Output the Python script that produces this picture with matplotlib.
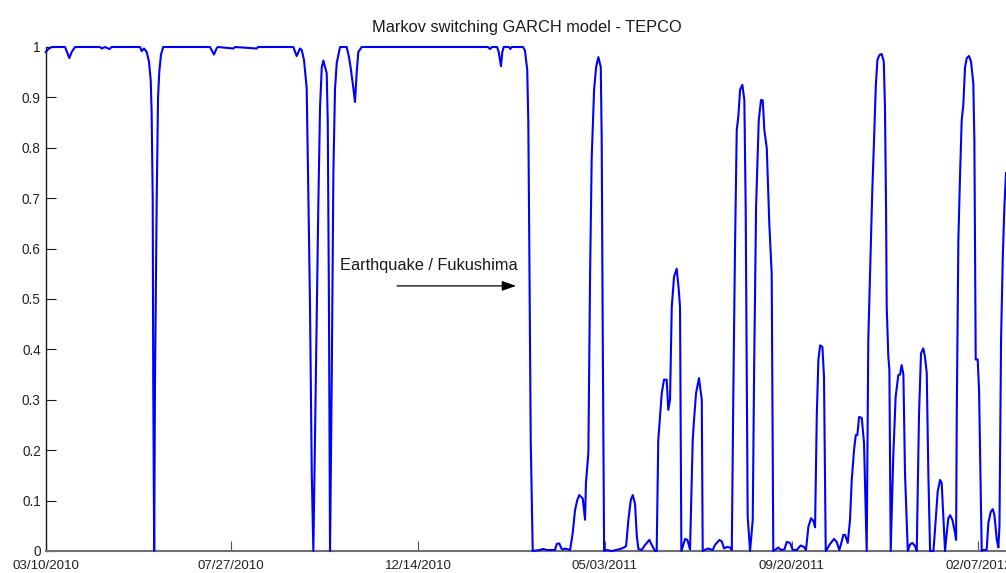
import matplotlib
matplotlib.use("Agg")
import matplotlib.pyplot as plt
import pandas as pd

plt.rcParams['font.family'] = ['Liberation Sans', 'DejaVu Sans']

# ---------------- data ----------------
start_date = "2010-03-10"
# days since start_date
days = [
    0, 2.0, 4.5, 14.5, 17.7, 19.5, 22.0, 40.7, 42.0, 44.4, 47.7, 49.5,
    70.7, 71.9, 73.7, 75.7, 77.4, 78.7, 79.4, 80.2, 80.6, 81.3, 81.9, 83.2,
    84.2, 85.1, 86.4, 88.1, 123.1, 126.1, 128.2, 129.1, 140.6, 141.9, 158.1,
    159.1, 185.6, 188.1, 190.6, 191.9, 193.6, 195.6, 196.6, 198.1, 199.4,
    200.6, 201.8, 204.3, 205.6, 206.9, 208.1, 210.6, 211.4, 212.3, 213.1,
    214.4, 215.6, 216.8, 218.1, 220.6, 225.6, 227.3, 228.6, 230.5, 231.8,
    233.1, 234.3, 236.8, 331.5, 333.0, 334.5, 338.3, 339.5, 341.2, 342.2,
    343.3, 347.2, 348.2, 349.3, 357.7, 359.2, 360.9, 361.7, 362.4, 363.5,
    365.0, 370.5, 372.7, 375.7, 381.7, 383.0, 384.9, 386.7, 387.9, 389.2,
    393.0, 395.0, 396.7, 398.4, 399.9, 402.5, 404.2, 404.9, 406.7, 408.0,
    409.2, 411.0, 412.5, 414.2, 416.0, 416.7, 417.5, 418.5, 420.0, 424.5,
    430.5, 433.5, 435.0, 436.7, 438.5, 440.0, 441.7, 443.0, 444.2, 446.7,
    449.2, 452.4, 454.2, 456.7, 457.9, 459.1, 461.7, 463.4, 465.4, 466.6,
    467.9, 469.2, 470.9, 472.9, 474.4, 475.4, 476.4, 479.2, 480.9, 482.9,
    484.9, 485.9, 487.4, 489.6, 491.7, 492.4, 496.3, 499.9, 501.6, 504.9,
    506.7, 508.4, 510.4, 512.9, 514.2, 515.3, 516.6, 517.9, 519.1, 520.4,
    522.1, 523.6, 524.6, 526.1, 527.9, 529.9, 530.9, 532.4, 534.4, 536.1,
    537.4, 538.6, 540.4, 542.3, 544.1, 545.3, 546.6, 549.1, 550.9, 553.6,
    555.4, 557.9, 559.9, 562.9, 565.8, 568.3, 569.8, 571.6, 573.6, 575.3,
    576.6, 577.9, 579.1, 580.4, 582.1, 583.3, 584.6, 585.3, 587.3, 589.1,
    590.8, 592.8, 594.8, 596.1, 597.8, 599.1, 601.1, 602.8, 604.1, 605.8,
    607.1, 608.3, 609.6, 611.6, 613.3, 615.3, 616.5, 617.8, 619.5, 620.8,
    622.1, 623.3, 624.8, 626.6, 628.1, 629.0, 629.8, 630.3, 631.5, 632.3,
    633.3, 635.2, 637.0, 639.0, 640.3, 641.5, 642.8, 644.0, 646.1, 647.8,
    649.5, 651.5, 652.8, 654.5, 656.0, 657.7, 659.0, 660.3, 661.5, 662.8,
    665.3, 666.5, 668.5, 670.3, 671.5, 672.3, 674.0, 675.3, 676.5, 677.8,
    679.5, 681.5, 682.3, 682.8, 684.0, 685.3, 686.5, 687.7, 689.0, 690.3,
    692.0, 693.5, 695.2, 696.0, 697.0, 698.5, 699.5, 700.5, 701.5, 702.7,
    705.2, 706.5, 708.3, 709.8, 711.0, 712.8, 714.0, 714.8, 716.0, 717.3,
    718.5, 719.7,
]
prob = [
    0.99, 0.996, 1.0, 1.0, 0.978, 0.99, 1.0, 1.0, 0.997, 1.0, 0.996, 1.0,
    1.0, 0.992, 0.997, 0.99, 0.971, 0.934, 0.87, 0.70, 0.33, 0.0, 0.33, 0.70,
    0.90, 0.95, 0.985, 1.0, 1.0, 0.985, 0.998, 1.0, 0.997, 1.0, 0.997,
    1.0, 1.0, 0.982, 0.997, 0.994, 0.974, 0.918, 0.75, 0.484, 0.154,
    0.0, 0.22, 0.683, 0.88, 0.96, 0.973, 0.948, 0.85, 0.48, 0.0,
    0.35, 0.75, 0.915, 0.968, 1.0, 1.0, 0.98, 0.958, 0.92, 0.891,
    0.95, 0.99, 1.0, 1.0, 0.996, 1.0, 1.0, 0.99, 0.962, 0.99,
    1.0, 1.0, 0.996, 1.0, 1.0, 0.993, 0.954, 0.85, 0.617, 0.22,
    0.0, 0.002, 0.004, 0.002, 0.002, 0.014, 0.015, 0.004, 0.003, 0.005,
    0.002, 0.036, 0.081, 0.101, 0.111, 0.104, 0.062, 0.135, 0.194, 0.55,
    0.78, 0.915, 0.96, 0.98, 0.96, 0.815, 0.42, 0.0, 0.002, 0.0,
    0.004, 0.007, 0.01, 0.062, 0.101, 0.111, 0.093, 0.03, 0.004, 0.002,
    0.012, 0.022, 0.012, 0.0, 0.0, 0.22, 0.313, 0.34, 0.34, 0.28,
    0.30, 0.484, 0.544, 0.56, 0.52, 0.484, 0.0, 0.024, 0.022, 0.003,
    0.22, 0.26, 0.313, 0.343, 0.30, 0.0, 0.005, 0.002, 0.012, 0.022,
    0.019, 0.005, 0.008, 0.007, 0.002, 0.30, 0.60, 0.835, 0.862, 0.915,
    0.925, 0.895, 0.683, 0.068, 0.0, 0.062, 0.353, 0.683, 0.855, 0.895,
    0.894, 0.835, 0.80, 0.65, 0.55, 0.0, 0.002, 0.007, 0.002, 0.003,
    0.018, 0.016, 0.002, 0.002, 0.011, 0.008, 0.002, 0.048, 0.065, 0.06,
    0.047, 0.27, 0.38, 0.408, 0.405, 0.345, 0.0, 0.002, 0.012, 0.018,
    0.024, 0.018, 0.002, 0.014, 0.032, 0.032, 0.016, 0.062, 0.141, 0.20,
    0.23, 0.23, 0.266, 0.264, 0.214, 0.0, 0.42, 0.55, 0.716, 0.815,
    0.921, 0.974, 0.984, 0.986, 0.971, 0.88, 0.683, 0.485, 0.386, 0.36,
    0.0, 0.187, 0.306, 0.349, 0.35, 0.369, 0.35, 0.154, 0.0, 0.013,
    0.016, 0.01, 0.0, 0.27, 0.392, 0.402, 0.385, 0.353, 0.154, 0.0,
    0.0, 0.042, 0.118, 0.141, 0.135, 0.093, 0.0, 0.036, 0.065, 0.071,
    0.062, 0.036, 0.022, 0.27, 0.617, 0.75, 0.855, 0.885, 0.96, 0.978,
    0.982, 0.971, 0.928, 0.815, 0.38, 0.38, 0.32, 0.154, 0.0, 0.002,
    0.002, 0.056, 0.078, 0.083, 0.072, 0.022, 0.007, 0.05, 0.42, 0.584,
    0.683, 0.75,
]
tick_dates = ["2010-03-10", "2010-07-27", "2010-12-14",
              "2011-05-03", "2011-09-20", "2012-02-07"]
tick_labels = ["03/10/2010", "07/27/2010", "12/14/2010",
               "05/03/2011", "09/20/2011", "02/07/2012"]
ytick_vals = [0, 0.1, 0.2, 0.3, 0.4, 0.5, 0.6, 0.7, 0.8, 0.9, 1.0]
ytick_labels = ["0", "0.1", "0.2", "0.3", "0.4", "0.5",
                "0.6", "0.7", "0.8", "0.9", "1"]
title_text = "Markov switching GARCH model - TEPCO"
annot_text = "Earthquake / Fukushima"
view_days = 719.7

# ---------------- figure ----------------
W, H = 1006, 573
fig = plt.figure(figsize=(W / 100, H / 100), dpi=100)
ax = fig.add_axes([45.7 / W, 22 / H, (W - 45.7) / W, 504 / H])

t0 = pd.Timestamp(start_date)
dates = t0 + pd.to_timedelta(days, unit="D")
ax.plot(dates, prob, color="#0000ff", lw=1.5, clip_on=False,
        solid_joinstyle="round", zorder=3)

ax.set_xlim(t0, t0 + pd.Timedelta(days=view_days))
ax.set_ylim(0, 1)

ax.set_xticks(pd.to_datetime(tick_dates))
ax.set_xticklabels(tick_labels)
ax.set_yticks(ytick_vals)
ax.set_yticklabels(ytick_labels)

for s in ["top", "right"]:
    ax.spines[s].set_visible(False)
ax.spines["left"].set_color("#1a1a1a")
ax.spines["left"].set_linewidth(1.0)
ax.spines["bottom"].set_color("#707070")
ax.spines["bottom"].set_linewidth(1.5)

ax.tick_params(axis="y", direction="in", length=7.2, width=0.8,
               color="#1a1a1a", labelsize=9.8, labelcolor="#222222", pad=3.5)
ax.tick_params(axis="x", direction="in", length=7.2, width=0.8,
               color="#505050", labelsize=9.6, labelcolor="#222222", pad=6.5)

fig.text(527.2 / W, 1 - 32.0 / H, title_text, ha="center", va="baseline",
         fontsize=11.8, color="#1a1a1a")

ax.text(t0 + pd.Timedelta(days=220.6), 0.5575, annot_text, ha="left",
        va="baseline", fontsize=11.8, color="#1a1a1a")
ax.annotate("", xy=(t0 + pd.Timedelta(days=352.5), 0.526),
            xytext=(t0 + pd.Timedelta(days=263.3), 0.526),
            arrowprops=dict(arrowstyle="-|>,head_length=0.85,head_width=0.3",
                            mutation_scale=10, lw=0.9, color="black",
                            shrinkA=0, shrinkB=0))

fig.savefig("out.png", dpi=100)
